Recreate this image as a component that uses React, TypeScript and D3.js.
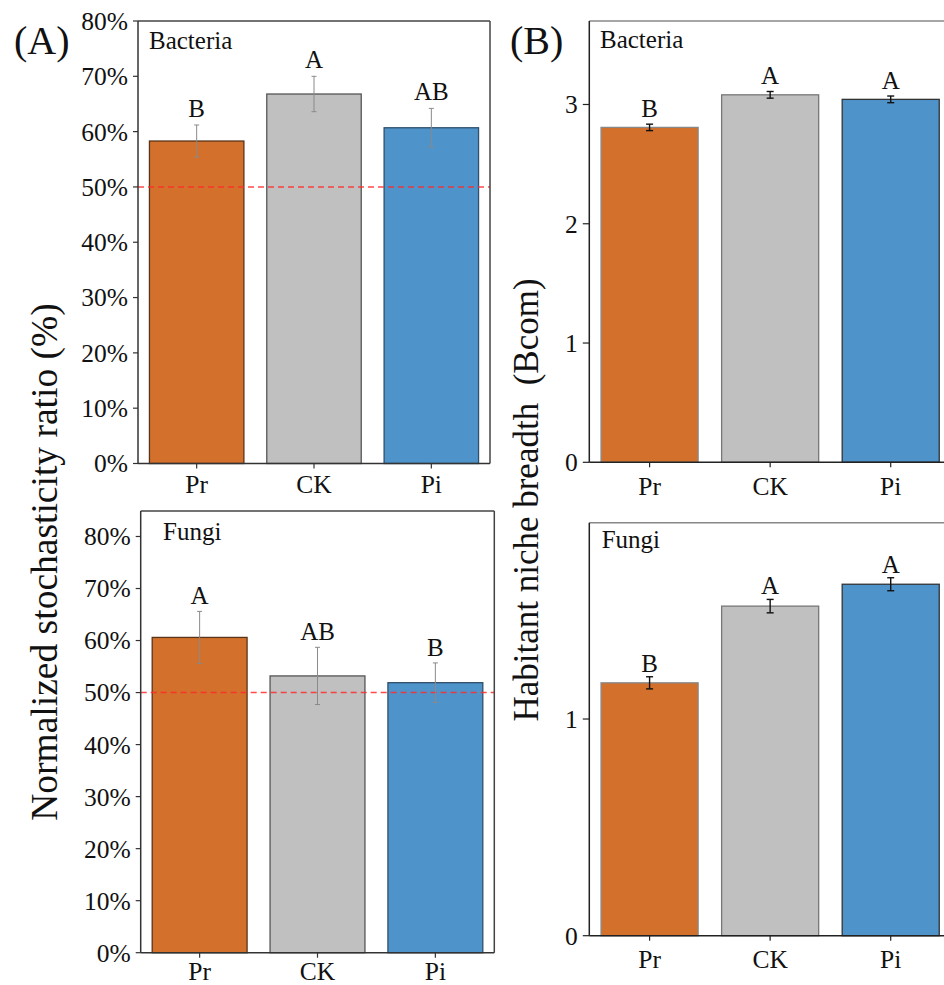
import React from "react";
import * as d3 from "d3";

const groups = ["Pr", "CK", "Pi"];
const fills = ["#D2702C", "#C0C0C0", "#4F93CB"];
const edgesA = ["#5a3418", "#555555", "#2f4f6a"];
const edgesB = ["#888888", "#777777", "#333333"];

const stochBacteriaMean = [58.3, 66.8, 60.7];
const stochBacteriaSe = [2.9, 3.2, 3.5];
const stochBacteriaLetters = ["B", "A", "AB"];

const stochFungiMean = [60.6, 53.2, 51.9];
const stochFungiSe = [5.0, 5.5, 3.8];
const stochFungiLetters = ["A", "AB", "B"];

const nicheBacteriaMean = [2.808, 3.081, 3.043];
const nicheBacteriaSe = [0.027, 0.028, 0.028];
const nicheBacteriaLetters = ["B", "A", "A"];

const nicheFungiMean = [1.167, 1.521, 1.622];
const nicheFungiSe = [0.028, 0.031, 0.03];
const nicheFungiLetters = ["B", "A", "A"];

const pctTicks = [0, 10, 20, 30, 40, 50, 60, 70, 80];
const nicheBacteriaTicks = [0, 1, 2, 3];
const nicheFungiTicks = [0, 1];

const FONT = "'Liberation Serif', 'Times New Roman', serif";

type PanelProps = {
  x0: number; x1: number; yTop: number; yBottom: number;
  domainMax: number; ticks: number[]; fmt: (v: number) => string;
  means: number[]; ses: number[]; letters: string[];
  title: string; titleX: number; titleY: number;
  letterOffset: number; xLabelDy: number;
  errColor: string; errWidth: number; capW: number;
  edges: string[]; refLine?: number; frameColor: string; axisColor: string;
  tickLen: number;
};

function Panel(p: PanelProps) {
  const x = d3.scaleBand<string>().domain(groups).range([p.x0, p.x1]).paddingInner(0.195).paddingOuter(0.0975);
  const y = d3.scaleLinear().domain([0, p.domainMax]).range([p.yBottom, p.yTop]);
  const bw = x.bandwidth();
  return (
    <g>
      {groups.map((g, i) => (
        <rect key={g} x={x(g)} y={y(p.means[i])} width={bw} height={y(0) - y(p.means[i])}
          fill={fills[i]} stroke={p.edges[i]} strokeWidth={1.3} />
      ))}
      {p.refLine !== undefined && (
        <line x1={p.x0} x2={p.x1} y1={y(p.refLine)} y2={y(p.refLine)} stroke="#FF2A2A" strokeOpacity={0.85}
          strokeWidth={1.5} strokeDasharray="6,4" />
      )}
      {groups.map((g, i) => {
        const cx = (x(g) as number) + bw / 2;
        const hi = y(p.means[i] + p.ses[i]);
        const lo = y(p.means[i] - p.ses[i]);
        return (
          <g key={g + "e"} stroke={p.errColor} strokeWidth={p.errWidth}>
            <line x1={cx} x2={cx} y1={hi} y2={lo} />
            <line x1={cx - p.capW / 2} x2={cx + p.capW / 2} y1={hi} y2={hi} />
            <line x1={cx - p.capW / 2} x2={cx + p.capW / 2} y1={lo} y2={lo} />
          </g>
        );
      })}
      {groups.map((g, i) => (
        <text key={g + "l"} x={(x(g) as number) + bw / 2} y={y(p.means[i] + p.ses[i]) - p.letterOffset}
          textAnchor="middle" fontSize={25} fontFamily={FONT} fill="#111">{p.letters[i]}</text>
      ))}
      {/* frame */}
      <line x1={p.x0} x2={p.x1} y1={p.yTop} y2={p.yTop} stroke={p.frameColor} strokeWidth={1.5} />
      <line x1={p.x1} x2={p.x1} y1={p.yTop} y2={p.yBottom} stroke={p.frameColor} strokeWidth={1.5} />
      <line x1={p.x0} x2={p.x0} y1={p.yTop} y2={p.yBottom} stroke={p.axisColor} strokeWidth={1.5} />
      <line x1={p.x0} x2={p.x1} y1={p.yBottom} y2={p.yBottom} stroke={p.axisColor} strokeWidth={1.5} />
      {p.ticks.map((t) => (
        <g key={"t" + t}>
          <line x1={p.x0 - p.tickLen} x2={p.x0} y1={y(t)} y2={y(t)} stroke={p.axisColor} strokeWidth={1.2} />
          <text x={p.x0 - p.tickLen - 5} y={y(t)} dy="0.35em" textAnchor="end" fontSize={25.5} fontFamily={FONT} fill="#111">
            {p.fmt(t)}
          </text>
        </g>
      ))}
      {groups.map((g) => {
        const cx = (x(g) as number) + bw / 2;
        return (
          <g key={"x" + g}>
            <line x1={cx} x2={cx} y1={p.yBottom} y2={p.yBottom + 5} stroke={p.axisColor} strokeWidth={1.2} />
            <text x={cx} y={p.yBottom + p.xLabelDy} textAnchor="middle" fontSize={25.5} fontFamily={FONT} fill="#111">{g}</text>
          </g>
        );
      })}
      <text x={p.titleX} y={p.titleY} fontSize={25} fontFamily={FONT} fill="#111">{p.title}</text>
    </g>
  );
}

export default function App() {
  const pct = (v: number) => `${v}%`;
  const num = (v: number) => `${v}`;
  return (
    <svg width={944} height={985} style={{ position: "absolute", left: 0, top: 0, background: "#fff" }}>
      <rect width={944} height={985} fill="#fff" />
      <Panel x0={138} x1={490} yTop={21} yBottom={463.5} domainMax={80} ticks={pctTicks} fmt={pct}
        means={stochBacteriaMean} ses={stochBacteriaSe} letters={stochBacteriaLetters}
        title="Bacteria" titleX={149} titleY={49} letterOffset={8} xLabelDy={29.5}
        errColor="#8a8a8a" errWidth={1} capW={5} edges={edgesA} refLine={50}
        frameColor="#444" axisColor="#333" tickLen={5} />
      <Panel x0={140.7} x1={494.3} yTop={511} yBottom={952.7} domainMax={84.9} ticks={pctTicks} fmt={pct}
        means={stochFungiMean} ses={stochFungiSe} letters={stochFungiLetters}
        title="Fungi" titleX={163} titleY={540} letterOffset={7} xLabelDy={27}
        errColor="#8a8a8a" errWidth={1} capW={5} edges={edgesA} refLine={50}
        frameColor="#444" axisColor="#333" tickLen={5} />
      <Panel x0={589.3} x1={951} yTop={21} yBottom={462.3} domainMax={3.7} ticks={nicheBacteriaTicks} fmt={num}
        means={nicheBacteriaMean} ses={nicheBacteriaSe} letters={nicheBacteriaLetters}
        title="Bacteria" titleX={600} titleY={48} letterOffset={7} xLabelDy={32.5}
        errColor="#111" errWidth={1.4} capW={7} edges={edgesB}
        frameColor="#888" axisColor="#222" tickLen={6.5} />
      <Panel x0={589.3} x1={951} yTop={522.7} yBottom={935.7} domainMax={1.906} ticks={nicheFungiTicks} fmt={num}
        means={nicheFungiMean} ses={nicheFungiSe} letters={nicheFungiLetters}
        title="Fungi" titleX={601.7} titleY={548} letterOffset={5} xLabelDy={32.5}
        errColor="#111" errWidth={1.4} capW={7} edges={edgesB}
        frameColor="#888" axisColor="#222" tickLen={6.5} />
      <text x={14} y={54} fontSize={40} fontFamily={FONT} fill="#111">(A)</text>
      <text x={510} y={54} fontSize={40} fontFamily={FONT} fill="#111">(B)</text>
      <text transform="translate(57,562) rotate(-90)" textAnchor="middle" fontSize={37.5} fontFamily={FONT} fill="#111">
        Normalized stochasticity ratio (%)
      </text>
      <text transform="translate(538,500) rotate(-90)" textAnchor="middle" fontSize={35} fontFamily={FONT} fill="#111" style={{ whiteSpace: "pre" }}>
        {"Habitant niche breadth\u00A0 (Bcom)"}
      </text>
    </svg>
  );
}
